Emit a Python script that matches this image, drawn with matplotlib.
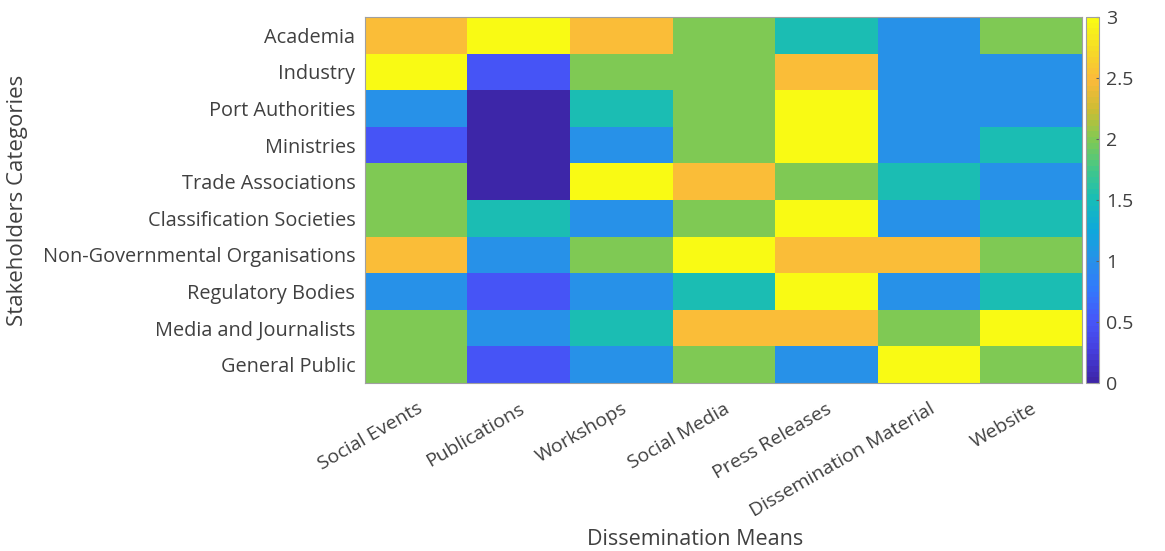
import numpy as np
import matplotlib
matplotlib.use("Agg")
import matplotlib.pyplot as plt
from matplotlib.colors import LinearSegmentedColormap

plt.rcParams['font.family'] = ['Open Sans', 'DejaVu Sans']

# Datos del mapa de calor
categorias = ['Academia', 'Industry', 'Port Authorities', 'Ministries',
              'Trade Associations', 'Classification Societies',
              'Non-Governmental Organisations', 'Regulatory Bodies',
              'Media and Journalists', 'General Public']
medios = ['Social Events', 'Publications', 'Workshops', 'Social Media',
          'Press Releases', 'Dissemination Material', 'Website']

academia = [2.5, 3, 2.5, 2, 1.5, 1, 2]
industry = [3, 0.5, 2, 2, 2.5, 1, 1]
port = [1, 0, 1.5, 2, 3, 1, 1]
ministries = [0.5, 0, 1, 2, 3, 1, 1.5]
trade = [2, 0, 3, 2.5, 2, 1.5, 1]
classification = [2, 1.5, 1, 2, 3, 1, 1.5]
ngo = [2.5, 1, 2, 3, 2.5, 2.5, 2]
regulatory = [1, 0.5, 1, 1.5, 3, 1, 1.5]
media = [2, 1, 1.5, 2.5, 2.5, 2, 3]
public = [2, 0.5, 1, 2, 1, 3, 2]

valores = np.array([academia, industry, port, ministries, trade,
                    classification, ngo, regulatory, media, public])

# Mapa de colores tipo parula (MATLAB), un color cada 0.25
parula = LinearSegmentedColormap.from_list('parula', [
    (0.242, 0.150, 0.660), (0.274, 0.245, 0.870),
    (0.278, 0.340, 0.975), (0.200, 0.470, 0.990),
    (0.153, 0.570, 0.910), (0.060, 0.660, 0.860),
    (0.090, 0.740, 0.720), (0.260, 0.780, 0.540),
    (0.500, 0.790, 0.330), (0.800, 0.740, 0.200),
    (0.985, 0.730, 0.230), (0.960, 0.860, 0.150),
    (0.977, 0.984, 0.080)], N=64)

gris = '#404040'

fig = plt.figure(figsize=(11.65, 5.51), dpi=100)
ax = fig.add_axes([0.3133, 0.3049, 0.6155, 0.6642])
cax = fig.add_axes([0.9322, 0.3049, 0.0112, 0.6642])

im = ax.imshow(valores, cmap=parula, vmin=0, vmax=3, aspect='auto',
               interpolation='nearest')

ax.set_xticks(range(len(medios)))
ax.set_xticklabels(medios, rotation=30, ha='right', rotation_mode='anchor',
                   fontsize=14, color=gris)
ax.set_yticks(range(len(categorias)))
ax.set_yticklabels(categorias, fontsize=14.3, color=gris)
ax.tick_params(axis='y', length=0, pad=7)
ax.tick_params(axis='x', length=0, pad=12)
for s in ax.spines.values():
    s.set_color('#a0a0a0')
    s.set_linewidth(0.8)

ax.set_xlabel('Dissemination Means', fontsize=15.5, color=gris)
ax.xaxis.set_label_coords(0.46, -0.40)
ax.set_ylabel('Stakeholders Categories', fontsize=16, color=gris)
ax.yaxis.set_label_coords(-0.47, 0.5)

cb = fig.colorbar(im, cax=cax)
cb.set_ticks([0, 0.5, 1, 1.5, 2, 2.5, 3])
cb.set_ticklabels(['0', '0.5', '1', '1.5', '2', '2.5', '3'])
cb.ax.tick_params(labelsize=14, labelcolor=gris, color='#606060',
                  length=2, direction='in', pad=5)
cb.outline.set_edgecolor('#a0a0a0')
cb.outline.set_linewidth(0.8)

fig.savefig('out.png', dpi=100)
